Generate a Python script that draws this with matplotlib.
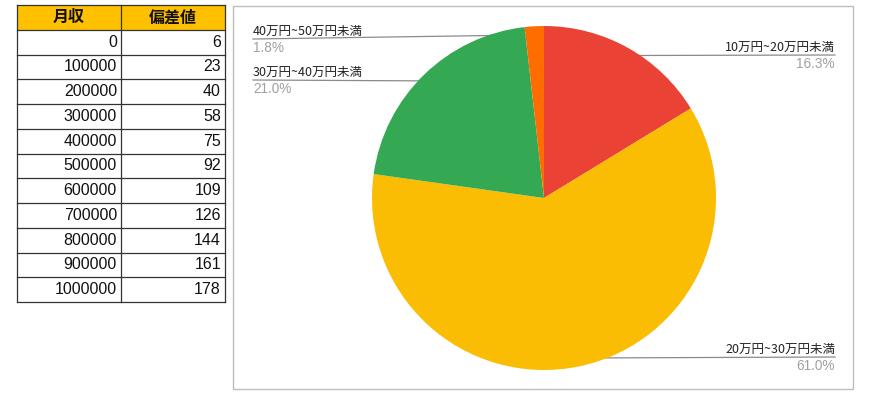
import numpy as np
import matplotlib
matplotlib.use('Agg')
import matplotlib.pyplot as plt
from matplotlib.patches import Rectangle

# ── Data ─────────────────────────────────────────────────────────
table_header = ["月収", "偏差値"]
income = [0, 100000, 200000, 300000, 400000, 500000,
          600000, 700000, 800000, 900000, 1000000]
score = [6, 23, 40, 58, 75, 92, 109, 126, 144, 161, 178]

slice_labels = ["10万円~20万円未満", "20万円~30万円未満",
                "30万円~40万円未満", "40万円~50万円未満"]
slice_pct = [16.3, 61.0, 21.0, 1.8]
slice_colors = ['#EA4335', '#FBBC04', '#34A853', '#FF6D01']

# ── Layout (pixels, y downward) ──────────────────────────────────
W, H = 870, 412
CJK = ['Noto Sans CJK JP', 'DejaVu Sans']

fig = plt.figure(figsize=(W / 100, H / 100), dpi=100)
ov = fig.add_axes([0, 0, 1, 1])
ov.set_xlim(0, W)
ov.set_ylim(H, 0)
ov.axis('off')

# ── Table ────────────────────────────────────────────────────────
tx0, tx1, tx2 = 17, 121, 225
ty0, row_h = 5, 24.75
ov.add_patch(Rectangle((tx0, ty0), tx2 - tx0, row_h, facecolor='#FFC000',
                       edgecolor='none', zorder=1))
for i, name in enumerate(table_header):
    cx = (tx0 + tx1) / 2 if i == 0 else (tx1 + tx2) / 2
    ov.text(cx, ty0 + row_h / 2, name, ha='center', va='center',
            fontsize=11.5, fontweight='bold', family=CJK, color='#111111', zorder=3)
for r, (inc, sc) in enumerate(zip(income, score)):
    yc = ty0 + row_h * (r + 1.5)
    ov.text(tx1 - 4, yc, str(inc), ha='right', va='center', fontsize=11.5,
            family='Liberation Sans', color='#111111', zorder=3)
    ov.text(tx2 - 4, yc, str(sc), ha='right', va='center', fontsize=11.5,
            family='Liberation Sans', color='#111111', zorder=3)
n_rows = len(income) + 1
for r in range(n_rows + 1):
    ov.plot([tx0, tx2], [ty0 + r * row_h] * 2, color='#333333', lw=0.9, zorder=2)
for x in (tx0, tx1, tx2):
    ov.plot([x, x], [ty0, ty0 + n_rows * row_h], color='#333333', lw=0.9, zorder=2)

# ── Chart box ────────────────────────────────────────────────────
ov.add_patch(Rectangle((233.5, 5.5), 620, 383.5, facecolor='none',
                       edgecolor='#BDBDBD', lw=1.0, zorder=1))

# ── Pie ──────────────────────────────────────────────────────────
cx, cy, R = 544, 198, 172
axp = fig.add_axes([(cx - R) / W, (H - cy - R) / H, 2 * R / W, 2 * R / H])
axp.pie(slice_pct, colors=slice_colors, startangle=90, counterclock=False,
        wedgeprops=dict(linewidth=0))
axp.set_xlim(-1, 1)
axp.set_ylim(-1, 1)
axp.set_aspect('auto')
axp.axis('off')

# leader lines + labels
total = sum(slice_pct)
cum = np.cumsum([0] + slice_pct)
label_y = [55, 357, 80, 39]
for i, (lab, p) in enumerate(zip(slice_labels, slice_pct)):
    mid = np.deg2rad(90 - (cum[i] + p / 2) / total * 360)
    px = cx + 0.95 * R * np.cos(mid)
    py = cy - 0.95 * R * np.sin(mid)
    ly = label_y[i]
    if np.cos(mid) > 0:
        xe, ha = 835, 'right'
    else:
        xe, ha = 253, 'left'
    ov.plot([xe, px], [ly, py], color='#8A8A8A', lw=0.9, zorder=4)
    ov.plot(px, py, 'o', ms=3.2, color='#A8A8A8', mec='none', zorder=5)
    ov.text(xe, ly - 1.5, lab, ha=ha, va='bottom', fontsize=9,
            family=CJK, color='#222222', zorder=5)
    ov.text(xe, ly + 2, f"{p:.1f}%", ha=ha, va='top', fontsize=9.8,
            family='Liberation Sans', color='#A0A0A0', zorder=5)

fig.savefig('out.png', dpi=100)
